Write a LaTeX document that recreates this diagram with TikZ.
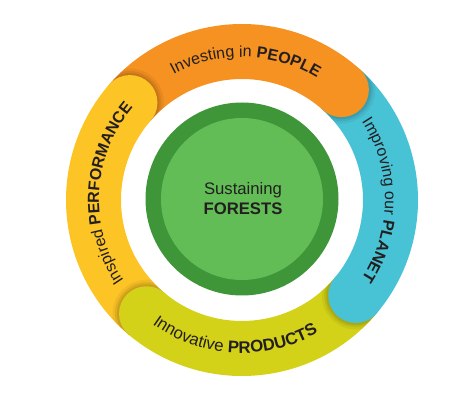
\documentclass[tikz,border=0pt]{standalone}
\usepackage{fontspec}
\setmainfont{Liberation Sans}
\usetikzlibrary{decorations.text}
\definecolor{cOrange}{RGB}{245,146,33}
\definecolor{cCyan}{RGB}{72,195,214}
\definecolor{cLime}{RGB}{212,210,24}
\definecolor{cYellow}{RGB}{253,196,37}
\definecolor{cGreenD}{RGB}{62,150,56}
\definecolor{cGreenL}{RGB}{98,189,86}
\definecolor{cInk}{RGB}{35,31,32}
\newcommand{\ringfs}{\fontsize{16}{19}\selectfont\color{cInk}}
\newcommand{\ringfsb}{\fontsize{16.8}{19}\selectfont\color{cInk}}
\tikzset{
  arctext/.style={decorate,decoration={text along path,text align=center,text={#1}}},
  coretext/.style={font=\fontsize{16.7}{20}\selectfont,text=cInk,anchor=base,inner sep=0pt}
}
\begin{document}
\begin{tikzpicture}[x=1pt,y=1pt]
\fill[white] (-242,-203) rectangle (228,200);
\useasboundingbox (-242,-203) rectangle (228,200);
% ring sectors
\foreach \s/\e/\c in {139/48/cOrange, 48/-40/cCyan, 320/230/cLime, 230/139/cYellow}{
  \fill[\c] (\s:121pt) arc[start angle=\s,end angle=\e,radius=121pt]
     -- (\e:176pt) arc[start angle=\e,end angle=\s,radius=176pt] -- cycle;
}
% caps with shadows
\foreach \e/\c in {48/cOrange, -40/cCyan, 230/cLime, 139/cYellow}{
  \begin{scope}
    \clip (\e:121pt) arc[start angle=\e,end angle=\e-50,radius=121pt]
       -- (\e-50:176pt) arc[start angle=\e-50,end angle=\e,radius=176pt] -- cycle;
    \fill[black,opacity=0.05] (\e:148.5pt) circle[radius=34pt];
    \fill[black,opacity=0.07] (\e:148.5pt) circle[radius=31.5pt];
    \fill[black,opacity=0.08] (\e:148.5pt) circle[radius=29.5pt];
  \end{scope}
  \fill[\c] (\e:148.5pt) circle[radius=27.5pt];
}
% centre
\fill[cGreenD] (0,1) circle[radius=96.5pt];
\fill[cGreenL] (0,1) circle[radius=81pt];
\node[coretext] (sus) at (1,5) {Sustaining};
\node[coretext] (for) at (1,-15) {\bfseries FORESTS};
% arc texts
\path[arctext={|\ringfs|Investing in |\ringfs\bfseries|PEOPLE}]
  (128.5:143pt) arc[start angle=128.5,end angle=48.5,radius=143pt];
\path[arctext={|\ringfs|Improving our |\ringfs\bfseries|PLANET}]
  (40:143pt) arc[start angle=40,end angle=-40,radius=143pt];
\path[arctext={|\ringfsb|Innovative |\ringfsb\bfseries|PRODUCTS}]
  (225:153pt) arc[start angle=225,end angle=309,radius=153pt];
\path[arctext={|\ringfs|Inspired |\ringfs\bfseries|PERFORMANCE}]
  (217:143pt) arc[start angle=217,end angle=137,radius=143pt];
\end{tikzpicture}
\end{document}
